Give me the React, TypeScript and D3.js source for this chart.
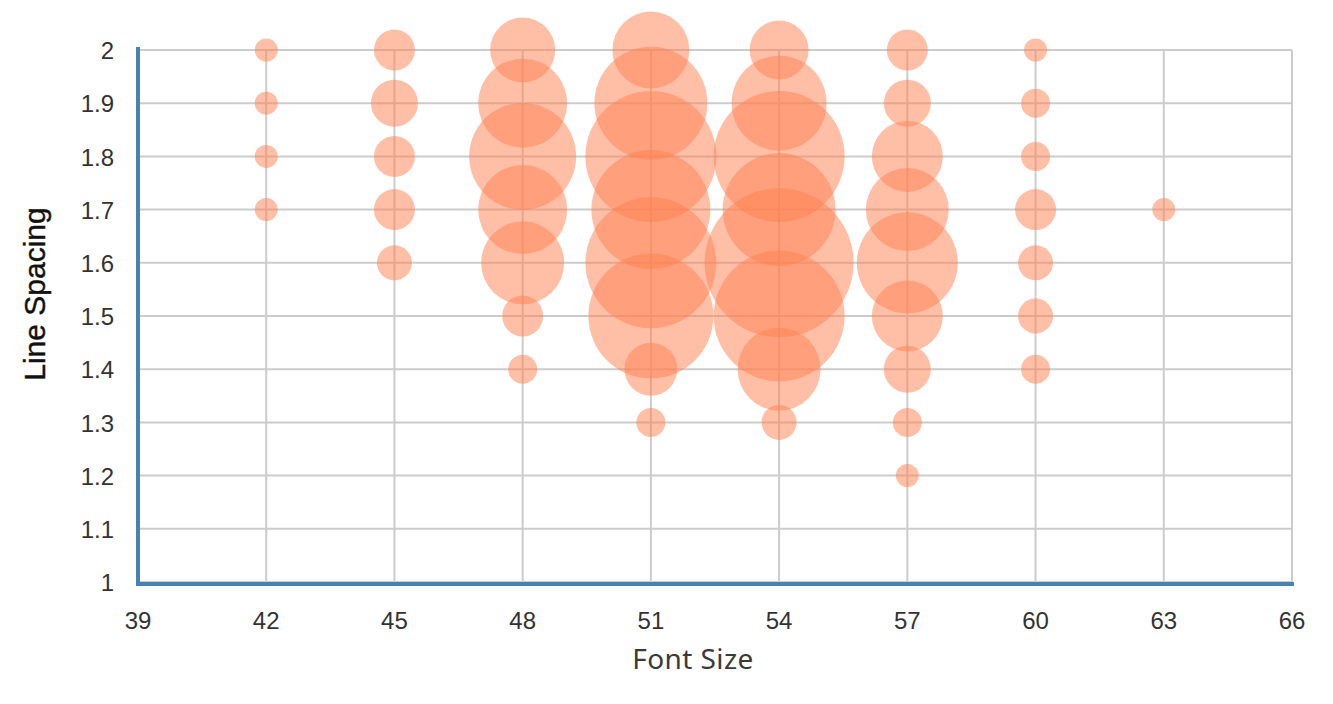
import React, { useEffect, useRef } from "react";
import * as d3 from "d3";

// font size columns and how many samples sit at each line spacing
const fontSizes = [42, 45, 48, 51, 54, 57, 60, 63];
const spacings42 = [2, 1.9, 1.8, 1.7];
const counts42 = [1, 1, 1, 1];
const spacings45 = [2, 1.9, 1.8, 1.7, 1.6];
const counts45 = [4, 5, 4, 4, 3];
const spacings48 = [2, 1.9, 1.8, 1.7, 1.6, 1.5, 1.4];
const counts48 = [8, 12, 15, 12, 11, 4, 2];
const spacings51 = [2, 1.9, 1.8, 1.7, 1.6, 1.5, 1.4, 1.3];
const counts51 = [10, 16, 19, 17, 19, 18, 6, 2];
const spacings54 = [2, 1.9, 1.8, 1.7, 1.6, 1.5, 1.4, 1.3];
const counts54 = [7, 13, 19, 16, 22, 19, 11, 3];
const spacings57 = [2, 1.9, 1.8, 1.7, 1.6, 1.5, 1.4, 1.3, 1.2];
const counts57 = [4, 5, 9, 11, 14, 9, 5, 2, 1];
const spacings60 = [2, 1.9, 1.8, 1.7, 1.6, 1.5, 1.4];
const counts60 = [1, 2, 2, 4, 3, 3, 2];
const spacings63 = [1.7];
const counts63 = [1];

const xTicks = [39, 42, 45, 48, 51, 54, 57, 60, 63, 66];
const yTicks = [1, 1.1, 1.2, 1.3, 1.4, 1.5, 1.6, 1.7, 1.8, 1.9, 2];

const App = () => {
  const svgRef = useRef<SVGSVGElement>(null);

  useEffect(() => {
    const svg = d3.select(svgRef.current);
    svg.selectAll("*").remove();

    const W = 1333, H = 704;
    const margin = { top: 50, right: 41, bottom: 122, left: 138 };

    const cols = [
      [spacings42, counts42], [spacings45, counts45], [spacings48, counts48],
      [spacings51, counts51], [spacings54, counts54], [spacings57, counts57],
      [spacings60, counts60], [spacings63, counts63],
    ];
    const points: { fs: number; ls: number; n: number }[] = [];
    cols.forEach(([sp, ct], i) => {
      sp.forEach((ls, j) => points.push({ fs: fontSizes[i], ls, n: ct[j] }));
    });

    const x = d3.scaleLinear().domain([39, 66]).range([margin.left, W - margin.right]);
    const y = d3.scaleLinear().domain([1, 2]).range([H - margin.bottom, margin.top]);
    const r = d3.scaleLinear().domain([1, 22]).range([11.5, 74.5]);

    const g = svg.append("g");

    // grid
    g.selectAll("line.hg")
      .data(yTicks)
      .enter()
      .append("line")
      .attr("x1", x(39))
      .attr("x2", x(66))
      .attr("y1", d => y(d))
      .attr("y2", d => y(d))
      .attr("stroke", "#cccccc")
      .attr("stroke-width", 2);

    g.selectAll("line.vg")
      .data(xTicks)
      .enter()
      .append("line")
      .attr("x1", d => x(d))
      .attr("x2", d => x(d))
      .attr("y1", y(2))
      .attr("y2", y(1))
      .attr("stroke", "#cccccc")
      .attr("stroke-width", 2);

    // bubbles
    g.selectAll("circle")
      .data(points)
      .enter()
      .append("circle")
      .attr("cx", d => x(d.fs))
      .attr("cy", d => y(d.ls))
      .attr("r", d => r(d.n))
      .attr("fill", "#ff7f50")
      .attr("fill-opacity", 0.5);

    // axis lines
    g.append("line")
      .attr("x1", x(39))
      .attr("x2", x(39))
      .attr("y1", y(2) - 3)
      .attr("y2", y(1) + 4)
      .attr("stroke", "#4682b4")
      .attr("stroke-width", 4);
    g.append("line")
      .attr("x1", x(39) - 2)
      .attr("x2", x(66) + 2)
      .attr("y1", y(1) + 2)
      .attr("y2", y(1) + 2)
      .attr("stroke", "#4682b4")
      .attr("stroke-width", 4);

    // tick labels
    g.selectAll("text.xt")
      .data(xTicks)
      .enter()
      .append("text")
      .attr("x", d => x(d))
      .attr("y", y(1) + 47)
      .attr("text-anchor", "middle")
      .attr("font-family", "Liberation Sans, Arial, sans-serif")
      .attr("font-size", 24)
      .attr("fill", "#333")
      .text(d => d);

    g.selectAll("text.yt")
      .data(yTicks)
      .enter()
      .append("text")
      .attr("x", 114)
      .attr("y", d => y(d))
      .attr("dy", "0.38em")
      .attr("text-anchor", "end")
      .attr("font-family", "Liberation Sans, Arial, sans-serif")
      .attr("font-size", 24)
      .attr("fill", "#333")
      .text(d => d);

    // axis titles
    svg.append("text")
      .attr("x", 693)
      .attr("y", 669)
      .attr("text-anchor", "middle")
      .attr("font-family", "Noto Sans, sans-serif")
      .attr("font-size", 28)
      .attr("letter-spacing", 0.4)
      .attr("fill", "#3a3a3a")
      .text("Font Size");

    svg.append("text")
      .attr("transform", "translate(45,294) rotate(-90)")
      .attr("text-anchor", "middle")
      .attr("font-family", "Liberation Sans, Arial, sans-serif")
      .attr("font-size", 30)
      .attr("fill", "#111")
      .attr("stroke", "#111")
      .attr("stroke-width", 0.4)
      .text("Line Spacing");
  }, []);

  return (
    <svg
      ref={svgRef}
      width={1333}
      height={704}
      style={{ position: "absolute", left: 0, top: 0, background: "#fff" }}
    ></svg>
  );
};

export default App;
